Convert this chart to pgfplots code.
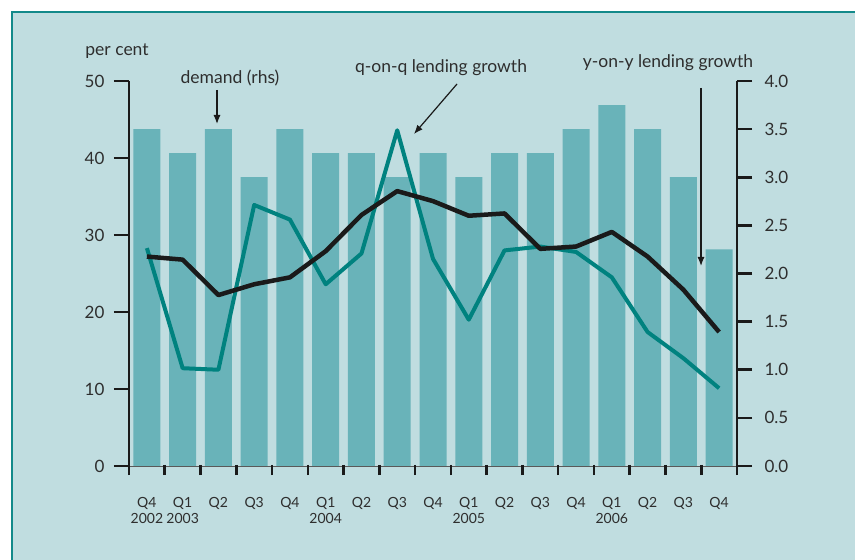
\documentclass[border=0pt]{standalone}
\usepackage{fontspec}
\setmainfont{Lato}
\usepackage{pgfplots}
\pgfplotsset{compat=1.18}
\usetikzlibrary{arrows.meta}

\definecolor{bg}{HTML}{C0DDE0}
\definecolor{barc}{HTML}{69B3B9}
\definecolor{qoqc}{HTML}{00827F}
\definecolor{framec}{HTML}{12898A}
\definecolor{txt}{HTML}{2E2E2E}
\definecolor{axc}{HTML}{1A1A1A}

% demand (rhs), q-on-q and y-on-y lending growth, Q4 2002 .. Q4 2006
\pgfplotstableread{
x demand qoq yoy
0  3.50 28.3 27.2
1  3.25 12.7 26.8
2  3.50 12.5 22.2
3  3.00 33.9 23.6
4  3.50 32.0 24.5
5  3.25 23.6 27.9
6  3.25 27.6 32.6
7  3.00 43.6 35.7
8  3.25 26.9 34.4
9  3.00 19.0 32.5
10 3.25 28.0 32.8
11 3.25 28.5 28.2
12 3.50 27.8 28.5
13 3.75 24.5 30.4
14 3.50 17.4 27.2
15 3.00 14.0 22.9
16 2.25 10.1 17.4
}\datatable

\pgfplotsset{
  common/.style={
    at={(129pt,94pt)}, anchor=south west,
    scale only axis, width=608pt, height=385pt,
    xmin=-0.5, xmax=16.5,
    /pgf/number format/assume math mode=true,
  },
}

\begin{document}
\begin{tikzpicture}[x=1pt,y=1pt]
\clip (0,0) rectangle (855,560);
\fill[white] (0,0) rectangle (855,560);
\fill[bg] (12,548) rectangle (880,-30);
\draw[framec, line width=2.5pt] (12,-30) -- (12,548) -- (880,548);

% bars on the right-hand axis
\begin{axis}[common,
    ymin=0, ymax=4,
    axis x line=none,
    axis y line*=right,
    tick align=outside,
    major tick length=15pt,
    y axis line style={axc, line width=2.6pt},
    ytick={0,0.5,...,4},
    ytick style={draw=axc, line width=2.6pt},
    yticklabel style={font=\fontsize{17}{20}\selectfont, text=txt, xshift=9pt,
      /pgf/number format/.cd, fixed, fixed zerofill, precision=1},
  ]
  \addplot[ybar, bar width=27pt, fill=barc, draw=none] table[x=x, y=demand] {\datatable};
\end{axis}

% lines on the left-hand axis
\begin{axis}[common,
    ymin=0, ymax=50,
    axis x line=none,
    axis y line*=left,
    tick align=outside,
    major tick length=15pt,
    y axis line style={axc, line width=2.6pt},
    ytick={0,10,...,50},
    ytick style={draw=axc, line width=2.6pt},
    yticklabel style={font=\fontsize{17}{20}\selectfont, text=txt, xshift=-6pt},
  ]
  \addplot[qoqc, line width=4pt, line join=round] table[x=x, y=qoq] {\datatable};
  \addplot[axc, line width=4.5pt, line join=round] table[x=x, y=yoy] {\datatable};
\end{axis}

% category axis
\begin{axis}[common,
    ymin=0, ymax=1,
    axis y line=none,
    axis x line*=bottom,
    tick align=outside,
    major tick length=9pt,
    x axis line style={gray!70!black, line width=0.8pt},
    xtick={-0.5,0.5,...,16.5},
    xtick style={draw=axc, line width=2.6pt},
    xticklabels={{Q4\\2002},{Q1\\2003},Q2,Q3,Q4,{Q1\\2004},Q2,Q3,Q4,{Q1\\2005},Q2,Q3,Q4,{Q1\\2006},Q2,Q3,Q4,{}},
    xticklabel style={align=center, anchor=north, xshift=17.88pt, yshift=-19pt,
      font=\fontsize{14}{16}\selectfont, text=txt},
  ]
\end{axis}

% heavier tick marks over the axis ticks
\foreach \v in {0,...,5} \draw[axc, line width=2.6pt] (114,94+77*\v) -- (129,94+77*\v);
\foreach \k in {0,...,8} \draw[axc, line width=2.6pt] (737,94+48.125*\k) -- (752,94+48.125*\k);
\foreach \i in {0,...,17} \draw[axc, line width=2.6pt] (129+35.765*\i,95) -- (129+35.765*\i,85);

% annotations
\node[txt, font=\fontsize{17.5}{20}\selectfont] at (117,509) {per cent};
\node[txt, font=\fontsize{17.5}{20}\selectfont] at (230,482) {demand (rhs)};
\draw[axc, line width=1.2pt, -{Latex[length=9pt,width=7pt]}] (217,470) -- (217,436);
\node[txt, font=\fontsize{17.5}{20}\selectfont] at (441,492) {q-on-q lending growth};
\draw[axc, line width=1.2pt, -{Latex[length=9pt,width=7pt]}] (457,476) -- (414,426);
\node[txt, font=\fontsize{17.5}{20}\selectfont] at (668,497) {y-on-y lending growth};
\draw[axc, line width=1.2pt, -{Latex[length=9pt,width=7pt]}] (701,472) -- (701,294);
\end{tikzpicture}
\end{document}
